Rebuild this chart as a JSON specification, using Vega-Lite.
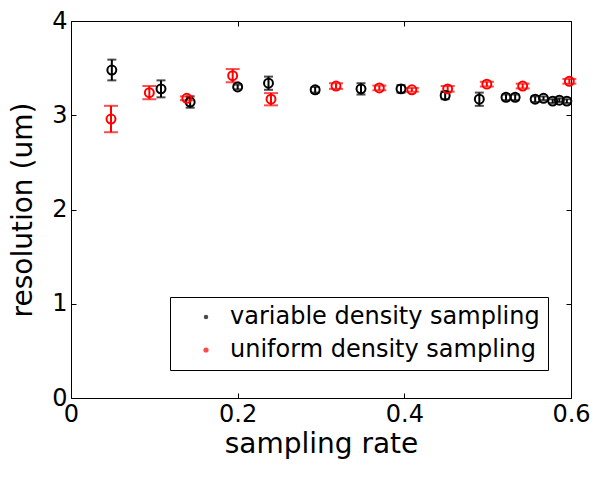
{
  "$schema": "https://vega.github.io/schema/vega-lite/v6.json",
  "width": 500,
  "height": 377,
  "autosize": {"type": "none"},
  "padding": {"left": 71, "top": 21, "right": 30, "bottom": 80},
  "background": "white",
  "config": {
    "view": {"stroke": "#000000", "strokeWidth": 1},
    "axis": {
      "domain": false,
      "grid": false,
      "ticks": true,
      "tickSize": -5,
      "tickColor": "#000000",
      "tickWidth": 1,
      "labelFont": "DejaVu Sans",
      "labelFontSize": 24,
      "labelColor": "#000000",
      "titleFont": "DejaVu Sans",
      "titleFontSize": 28,
      "titleFontWeight": "normal",
      "titleColor": "#000000"
    },
    "legend": {
      "labelFont": "DejaVu Sans",
      "labelFontSize": 24,
      "labelColor": "#000000",
      "labelLimit": 0
    }
  },
  "data": {
    "values": [
      {"series": "variable density sampling", "x": 0.049, "y": 3.48, "lo": 3.37, "hi": 3.59},
      {"series": "variable density sampling", "x": 0.108, "y": 3.28, "lo": 3.19, "hi": 3.37},
      {"series": "variable density sampling", "x": 0.143, "y": 3.14, "lo": 3.08, "hi": 3.20},
      {"series": "variable density sampling", "x": 0.200, "y": 3.30, "lo": 3.275, "hi": 3.325},
      {"series": "variable density sampling", "x": 0.237, "y": 3.34, "lo": 3.27, "hi": 3.41},
      {"series": "variable density sampling", "x": 0.293, "y": 3.27, "lo": 3.24, "hi": 3.30},
      {"series": "variable density sampling", "x": 0.348, "y": 3.28, "lo": 3.22, "hi": 3.34},
      {"series": "variable density sampling", "x": 0.396, "y": 3.28, "lo": 3.24, "hi": 3.32},
      {"series": "variable density sampling", "x": 0.449, "y": 3.21, "lo": 3.17, "hi": 3.25},
      {"series": "variable density sampling", "x": 0.490, "y": 3.17, "lo": 3.10, "hi": 3.24},
      {"series": "variable density sampling", "x": 0.522, "y": 3.19, "lo": 3.16, "hi": 3.22},
      {"series": "variable density sampling", "x": 0.533, "y": 3.19, "lo": 3.16, "hi": 3.22},
      {"series": "variable density sampling", "x": 0.557, "y": 3.17, "lo": 3.14, "hi": 3.20},
      {"series": "variable density sampling", "x": 0.567, "y": 3.18, "lo": 3.16, "hi": 3.20},
      {"series": "variable density sampling", "x": 0.578, "y": 3.15, "lo": 3.13, "hi": 3.17},
      {"series": "variable density sampling", "x": 0.586, "y": 3.16, "lo": 3.14, "hi": 3.18},
      {"series": "variable density sampling", "x": 0.595, "y": 3.15, "lo": 3.13, "hi": 3.17},
      {"series": "uniform density sampling", "x": 0.048, "y": 2.96, "lo": 2.82, "hi": 3.10},
      {"series": "uniform density sampling", "x": 0.094, "y": 3.24, "lo": 3.17, "hi": 3.31},
      {"series": "uniform density sampling", "x": 0.139, "y": 3.18, "lo": 3.16, "hi": 3.20},
      {"series": "uniform density sampling", "x": 0.194, "y": 3.42, "lo": 3.35, "hi": 3.49},
      {"series": "uniform density sampling", "x": 0.240, "y": 3.17, "lo": 3.105, "hi": 3.235},
      {"series": "uniform density sampling", "x": 0.318, "y": 3.31, "lo": 3.28, "hi": 3.34},
      {"series": "uniform density sampling", "x": 0.370, "y": 3.29, "lo": 3.265, "hi": 3.315},
      {"series": "uniform density sampling", "x": 0.409, "y": 3.27, "lo": 3.25, "hi": 3.29},
      {"series": "uniform density sampling", "x": 0.452, "y": 3.28, "lo": 3.25, "hi": 3.31},
      {"series": "uniform density sampling", "x": 0.499, "y": 3.33, "lo": 3.305, "hi": 3.355},
      {"series": "uniform density sampling", "x": 0.542, "y": 3.31, "lo": 3.285, "hi": 3.335},
      {"series": "uniform density sampling", "x": 0.598, "y": 3.36, "lo": 3.335, "hi": 3.385}
    ]
  },
  "layer": [
    {
      "mark": {"type": "rule", "strokeWidth": 2},
      "encoding": {
        "x": {"field": "x", "type": "quantitative", "scale": {"domain": [0, 0.6], "nice": false, "zero": false},
              "axis": {"orient": "top", "labels": false, "title": null, "values": [0, 0.2, 0.4, 0.6]}},
        "y": {"field": "lo", "type": "quantitative", "scale": {"domain": [0, 4], "nice": false, "zero": false},
              "axis": {"orient": "right", "labels": false, "title": null, "values": [0, 1, 2, 3, 4]}},
        "y2": {"field": "hi"},
        "color": {"field": "series", "type": "nominal", "scale": {"domain": ["variable density sampling", "uniform density sampling"], "range": ["#000000", "#ff0000"]}}
      }
    },
    {
      "mark": {"type": "tick", "thickness": 2, "orient": "horizontal"},
      "encoding": {
        "x": {"field": "x", "type": "quantitative", "axis": null},
        "y": {"field": "lo", "type": "quantitative", "axis": null},
        "size": {"field": "series", "type": "nominal", "scale": {"domain": ["variable density sampling", "uniform density sampling"], "range": [9, 14]}, "legend": null},
        "color": {"field": "series", "type": "nominal"}
      }
    },
    {
      "mark": {"type": "tick", "thickness": 2, "orient": "horizontal"},
      "encoding": {
        "x": {"field": "x", "type": "quantitative", "axis": null},
        "y": {"field": "hi", "type": "quantitative", "axis": null},
        "size": {"field": "series", "type": "nominal", "scale": {"domain": ["variable density sampling", "uniform density sampling"], "range": [9, 14]}, "legend": null},
        "color": {"field": "series", "type": "nominal"}
      }
    },
    {
      "mark": {"type": "point", "shape": "circle", "filled": false, "strokeWidth": 2, "size": 80, "opacity": 1},
      "encoding": {
        "x": {"field": "x", "type": "quantitative",
              "axis": {"orient": "bottom", "title": "sampling rate", "values": [0, 0.2, 0.4, 0.6], "format": "~g", "labelPadding": 9, "titlePadding": 4, "labelFlush": false}},
        "y": {"field": "y", "type": "quantitative",
              "axis": {"orient": "left", "title": "resolution (um)", "values": [0, 1, 2, 3, 4], "labelPadding": 9, "titlePadding": 14}},
        "color": {"field": "series", "type": "nominal",
                  "legend": {"orient": "none", "legendX": 99, "legendY": 276, "title": null,
                             "fillColor": "white", "strokeColor": "#000000", "padding": 8,
                             "symbolType": "circle", "symbolSize": 60,
                             "symbolOffset": 16, "labelOffset": 12, "rowPadding": 9,
                             "encode": {"symbols": {"update": {
                               "fill": {"value": "white"},
                               "stroke": {"scale": "color", "field": "value"},
                               "strokeWidth": {"value": 1},
                               "size": {"value": 60},
                               "opacity": {"value": 1}}}}}}
      }
    }
  ]
}
